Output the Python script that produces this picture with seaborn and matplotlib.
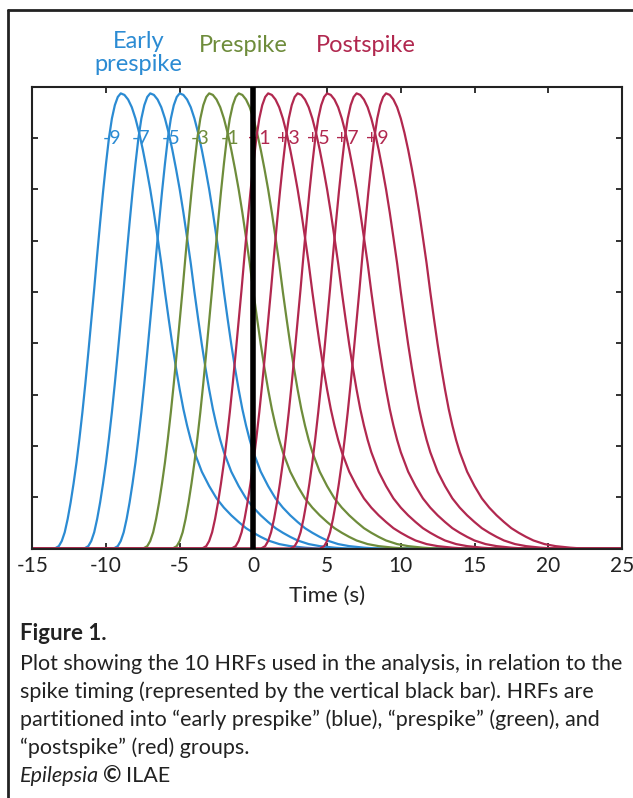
import numpy as np
import pandas as pd
import matplotlib
matplotlib.use("Agg")
import matplotlib.pyplot as plt
from matplotlib.lines import Line2D
import seaborn as sns

# peaks of the 10 HRFs (s) and their in-plot labels
peak_times = [-9, -7, -5, -3, -1, 1, 3, 5, 7, 9]
peak_labels = ["-9", "-7", "-5", "-3", "-1", "+1", "+3", "+5", "+7", "+9"]
peak_groups = ["Early prespike"] * 3 + ["Prespike"] * 2 + ["Postspike"] * 5

# HRF shape: time relative to peak (s) and height
shape_offset = [-4.5, -4.2, -4.0, -3.8, -3.6, -3.4, -3.2, -3.0, -2.8, -2.6,
                -2.4, -2.2, -2.0, -1.8, -1.6, -1.4, -1.2, -1.0, -0.8, -0.6,
                -0.4, -0.2, 0.0, 0.25, 0.5, 0.75, 1.0, 1.25, 1.5, 1.75,
                2.0, 2.25, 2.5, 2.75, 3.0, 3.25, 3.5, 3.75, 4.0, 4.25,
                4.5, 4.75, 5.0, 5.5, 6.0, 6.5, 7.0, 7.5, 8.0, 8.5,
                9.0, 9.5, 10.0, 10.75, 11.5, 12.5, 13.5]
shape_height = [0.0, 0.005, 0.015, 0.032, 0.058, 0.090, 0.127, 0.168, 0.215, 0.266,
                0.322, 0.382, 0.444, 0.506, 0.572, 0.635, 0.695, 0.750, 0.800, 0.838,
                0.864, 0.880, 0.887, 0.884, 0.875, 0.860, 0.838, 0.810, 0.777, 0.740,
                0.700, 0.655, 0.606, 0.556, 0.500, 0.448, 0.398, 0.352, 0.310, 0.272,
                0.240, 0.212, 0.188, 0.150, 0.122, 0.098, 0.080, 0.065, 0.052, 0.040,
                0.031, 0.023, 0.016, 0.009, 0.005, 0.002, 0.0]

x_min, x_max = -15, 25

group_colors = {"Early prespike": "#2b8bd3", "Prespike": "#6e8c3b", "Postspike": "#b1284f"}

rows = []
for p, lab, g in zip(peak_times, peak_labels, peak_groups):
    rows.append((x_min, 0.0, lab, g))
    for o, h in zip(shape_offset, shape_height):
        rows.append((p + o, h, lab, g))
    rows.append((x_max, 0.0, lab, g))
df = pd.DataFrame(rows, columns=["time", "height", "hrf", "group"])

sns.set_theme(style="ticks")
plt.rcParams["font.family"] = ["Lato", "DejaVu Sans"]
plt.rcParams["axes.unicode_minus"] = False

W, H = 633, 798
fig = plt.figure(figsize=(W / 100, H / 100), dpi=100)
ax = fig.add_axes([32.3 / W, 1 - 548.7 / H, (621.9 - 32.3) / W, (548.7 - 86.7) / H])

sns.lineplot(data=df, x="time", y="height", hue="group", units="hrf", estimator=None,
             palette=group_colors, linewidth=1.6, legend=False, sort=False, ax=ax)

ax.axvline(0, color="black", lw=4, zorder=5)

for p, lab, g in zip(peak_times, peak_labels, peak_groups):
    ax.text(p - 0.6, 0.8, lab, color=group_colors[g], ha="center", va="center",
            fontsize=14)

ax.text(-7.8, 0.966, "Early\nprespike", color=group_colors["Early prespike"],
        ha="center", va="center", fontsize=17, linespacing=1.15)
ax.text(-0.66, 0.98, "Prespike", color=group_colors["Prespike"],
        ha="center", va="center", fontsize=17)
ax.text(7.6, 0.98, "Postspike", color=group_colors["Postspike"],
        ha="center", va="center", fontsize=17)

ax.set_xlim(x_min, x_max)
ax.set_ylim(0, 0.9)
ax.set_xticks(range(-15, 26, 5))
ax.set_yticks(np.arange(0, 0.91, 0.1))
ax.set_yticklabels([])
ax.tick_params(direction="in", top=True, right=True, length=4, width=1.3,
               labelsize=15, pad=5, colors="#222222")
for s in ax.spines.values():
    s.set_linewidth(1.5)
    s.set_color("#222222")
ax.set_xlabel("Time (s)", fontsize=16, labelpad=7, color="#222222")
ax.set_ylabel("")

# figure frame and caption
fig.add_artist(Line2D([8 / W, 8 / W], [0, 1 - 10 / H], transform=fig.transFigure,
                      color="#222222", lw=2))
fig.add_artist(Line2D([8 / W, 1], [1 - 10 / H, 1 - 10 / H], transform=fig.transFigure,
                      color="#222222", lw=2))

cx = 20 / W
fig.text(cx, 1 - 634 / H, "Figure 1.", fontsize=16, fontweight="bold", va="center",
         color="#222222")
caption = [
    "Plot showing the 10 HRFs used in the analysis, in relation to the",
    "spike timing (represented by the vertical black bar). HRFs are",
    "partitioned into \u201cearly prespike\u201d (blue), \u201cprespike\u201d (green), and",
    "\u201cpostspike\u201d (red) groups.",
]
for i, line in enumerate(caption):
    fig.text(cx, 1 - (664 + 28 * i) / H, line, fontsize=15.5, va="center", color="#222222")

fig.canvas.draw()
r = fig.canvas.get_renderer()
t1 = fig.text(cx, 1 - 776 / H, "Epilepsia", fontsize=15.5, style="italic", va="center",
              color="#222222")
x1 = t1.get_window_extent(r).x1 / W + 4 / W
t2 = fig.text(x1, 1 - 776 / H, "\u00a9", fontsize=16, fontweight="bold", va="center",
              color="#222222")
x2 = t2.get_window_extent(r).x1 / W + 4 / W
fig.text(x2, 1 - 776 / H, "ILAE", fontsize=15.5, va="center", color="#222222")

fig.savefig("out.png", dpi=100)
